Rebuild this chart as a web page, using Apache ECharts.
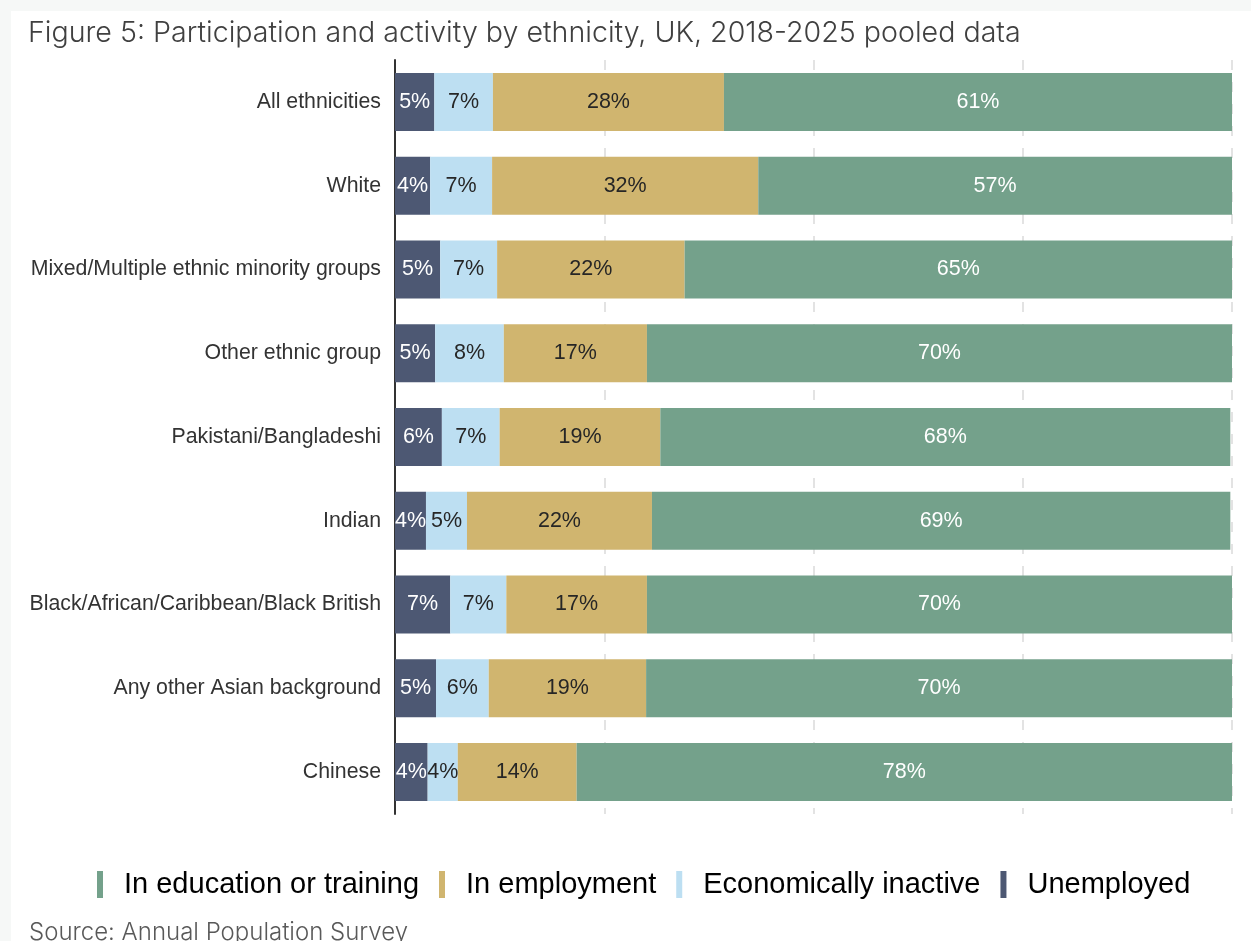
<!DOCTYPE html>
<html><head><meta charset="utf-8">
<script src="https://cdn.jsdelivr.net/npm/echarts@6/dist/echarts.min.js"></script>
<style>html,body{margin:0;padding:0;background:#f6f8f7}#c{width:1251px;height:941px}</style>
</head><body><div id="c"></div>
<script>
const categories = ['All ethnicities','White','Mixed/Multiple ethnic minority groups','Other ethnic group','Pakistani/Bangladeshi','Indian','Black/African/Caribbean/Black British','Any other Asian background','Chinese'];
const unemployed = [4.7,4.2,5.4,4.8,5.6,3.7,6.6,4.9,3.9];
const inactive   = [7.0,7.4,6.8,8.2,6.9,4.9,6.7,6.3,3.6];
const employment = [27.6,31.8,22.4,17.1,19.2,22.1,16.8,18.8,14.2];
const education  = [60.7,56.6,65.4,69.9,68.1,69.1,69.9,70.0,78.3];
const xTicks = [0,25,50,75,100];

const chart = echarts.init(document.getElementById('c'));
const lab = (color) => ({show:true, position:'inside', color:color, fontFamily:'Liberation Sans, Arial, sans-serif', fontSize:21.5,
  formatter: p => Math.round(p.value) + '%'});
const mk = (name, data, color, lc) => ({name, type:'bar', stack:'t', data, barWidth:58,
  itemStyle:{color}, label:lab(lc), emphasis:{disabled:true}});
chart.setOption({
  animation:false,
  backgroundColor:'#f6f8f7',
  graphic:[{type:'rect', shape:{x:11,y:11,width:1240,height:930}, style:{fill:'#ffffff'}, z:-10}],
  title:[
    {text:'Figure 5: Participation and activity by ethnicity, UK, 2018-2025 pooled data', left:23, top:14,
     textStyle:{fontFamily:'Inter, sans-serif', fontWeight:300, fontSize:28.6, color:'#404040'}},
    {text:'Source: Annual Population Survey', left:24, top:916,
     textStyle:{fontFamily:'Inter, sans-serif', fontWeight:300, fontSize:24, color:'#595959'}}
  ],
  legend:{data:['In education or training','In employment','Economically inactive','Unemployed'],
    left:97, top:870, padding:0, itemWidth:6, itemHeight:27, itemGap:20, icon:'rect',
    textStyle:{fontFamily:'Liberation Sans, Arial, sans-serif', fontSize:29, color:'#000', padding:[0,0,0,16]}},
  grid:{left:395, right:19, top:60, bottom:127},
  xAxis:{type:'value', min:xTicks[0], max:xTicks[xTicks.length-1], interval:25,
    axisLabel:{show:false}, axisLine:{show:false}, axisTick:{show:false},
    splitLine:{show:true, lineStyle:{color:'#e3e3e3', width:2, type:[10,12]}}},
  yAxis:{type:'category', data:categories, inverse:true,
    axisLine:{show:true, lineStyle:{color:'#333', width:2}}, axisTick:{show:false},
    axisLabel:{margin:14, fontFamily:'Liberation Sans, Arial, sans-serif', fontSize:21.3, color:'#333'}},
  series:[
    mk('Unemployed', unemployed, '#4d5873', '#ffffff'),
    mk('Economically inactive', inactive, '#bddff2', '#262626'),
    mk('In employment', employment, '#d0b56f', '#262626'),
    mk('In education or training', education, '#74a18b', '#ffffff')
  ]
});
</script></body></html>
